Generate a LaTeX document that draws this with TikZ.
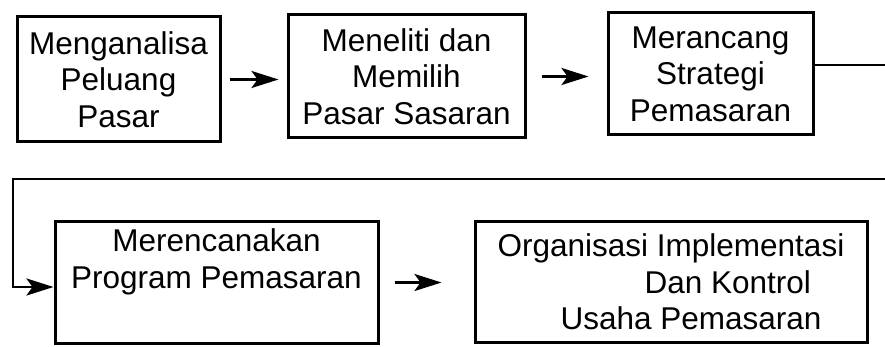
\documentclass[tikz,border=0pt]{standalone}
\usepackage{fontspec}
\setmainfont{Liberation Sans}
\usetikzlibrary{arrows.meta}
\begin{document}
\begin{tikzpicture}[x=1pt,y=-1pt,
  box/.style={draw, line width=3pt, inner sep=0pt, align=center,
    font=\fontsize{31.5}{36.5}\selectfont},
  conn/.style={line width=2.8pt},
  arr/.style={conn, -{Stealth[length=27pt,width=17pt,inset=6pt]}}]
\path[use as bounding box] (0,0) rectangle (885,347);
\clip (0,0) rectangle (885,347);
\node[box, minimum width=203pt, minimum height=125pt] (b1) at (118.5,79.5) {Menganalisa\\Peluang\\Pasar};
\node[box, minimum width=237pt, minimum height=123pt] (b2) at (406.5,76.5) {Meneliti dan\\Memilih\\Pasar Sasaran};
\node[box, minimum width=205pt, minimum height=122pt] (b3) at (710.5,74) {Merancang\\Strategi\\Pemasaran};
\node[box, minimum width=323pt, minimum height=121pt] (b4) at (216.5,282.5) {Merencanakan\\Program Pemasaran\\\strut};
\node[box, align=left, minimum width=392pt, minimum height=120pt] (b5) at (671,282) {Organisasi Implementasi\\\hspace*{147pt}Dan Kontrol\\\hspace*{63pt}Usaha Pemasaran};
\coordinate (r) at (900,179);
\coordinate (l) at (13,179);
\draw[arr] ([xshift=8pt]b1.east) -- ([xshift=-8pt]b1.east -| b2.west);
\draw[arr] ([xshift=15pt]b2.east) -- ([xshift=-18pt]b2.east -| b3.west);
\draw[arr] ([yshift=9pt]b3.east) -| (r) -- (l) |- ([yshift=-4.5pt]b4.west);
\draw[arr] ([xshift=15pt]b4.east) -- ([xshift=-32pt]b4.east -| b5.west);
\end{tikzpicture}
\end{document}
